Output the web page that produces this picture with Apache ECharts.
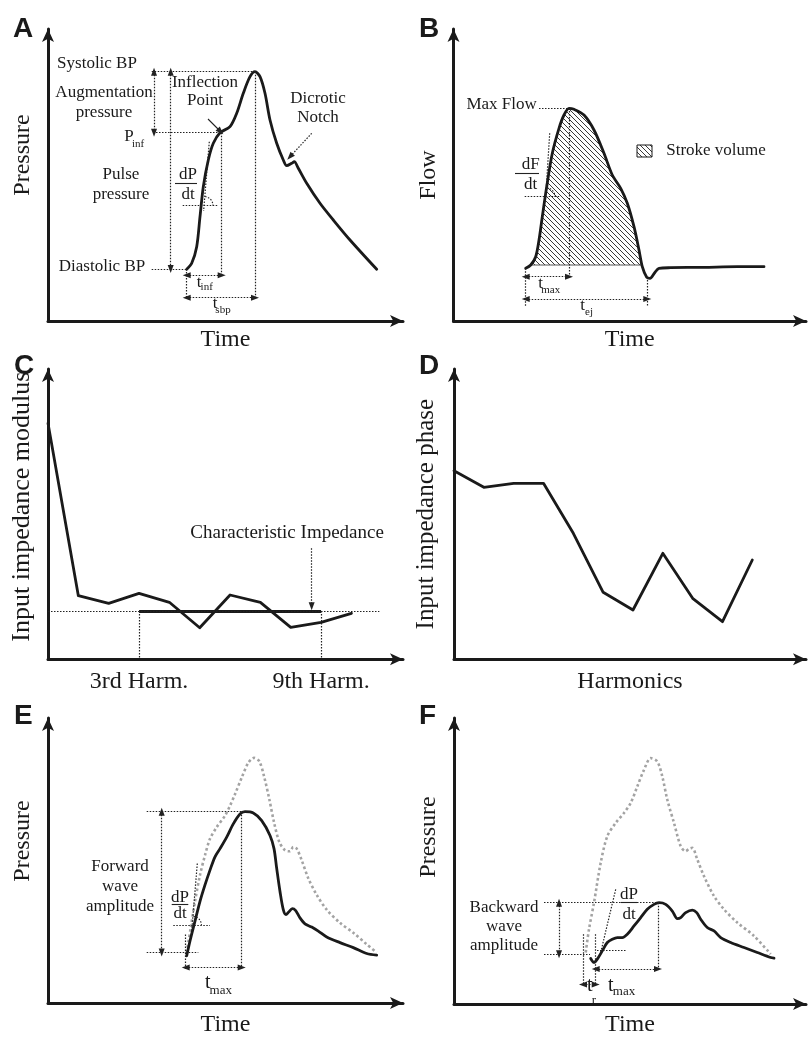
<!DOCTYPE html>
<html><head><meta charset="utf-8">
<script src="https://cdn.jsdelivr.net/npm/echarts@6/dist/echarts.min.js"></script>
<style>html,body{margin:0;padding:0;background:#fff}#c{width:808px;height:1038px}</style>
</head><body><div id="c"></div>
<script>
// ---------- Panel A : central pressure waveform (time, pressure; arbitrary units)
const aPressure = [[138.7,51.7],[143.7,57.7],[148.7,74.3],[152,104.3],[155.3,134.3],[160.3,161],[165.3,177.7],[172,188.3],[182,194.3],[188.7,207.7],[195.3,227.7],[202,244.3],[207,249.3],[212,244.3],[217,227.7],[222,201],[228.7,177.7],[235.3,161],[238.7,155.3],[243.7,157.7],[246.3,159.3],[250.3,152.7],[258.7,137.7],[272,117.7],[285.3,101],[302,81],[328.7,51.7]];
// ---------- Panel B : aortic flow waveform
const bFlow = [[72.2,52.7],[77.2,56],[82.2,64.3],[85.5,81],[88.8,104.3],[93.2,134.3],[98.8,167.7],[105.5,192.7],[110.5,206],[115.5,212.7],[120.5,211.7],[130.5,206],[140.5,191],[150.5,167.7],[158.8,146],[167.2,132.7],[173.8,117.7],[180.5,94.3],[185.5,71],[188.8,54.3],[193.2,43.7],[196.5,42.7],[201.2,48.3],[205.5,52.7],[217.2,53.3],[250.5,53.7],[283.8,54.3],[310.5,54.3]];
const bStroke = [[77.2,56],[82.2,64.3],[85.5,81],[88.8,104.3],[93.2,134.3],[98.8,167.7],[105.5,192.7],[110.5,206],[115.5,212.7],[120.5,211.7],[130.5,206],[140.5,191],[150.5,167.7],[158.8,146],[167.2,132.7],[173.8,117.7],[180.5,94.3],[185.5,71],[188.3,56]];
// ---------- Panels C, D : input impedance spectrum
const harmonics = [0,1,2,3,4,5,6,7,8,9,10];
const cModulus = [236,63.6,56,66,57,31.6,64.3,57,32,37,46];
const cCharImp = 48.3;
const harmonicLabels = {3:'3rd Harm.', 9:'9th Harm.'};
const dPhase = [188.6,172,176,176,126,67,49.3,106,61,37.6,99.3];
// ---------- Panel E : forward wave + measured pressure
const eForward = [[138.7,47.7],[142,62.7],[147,82.7],[152,102.7],[157,119.3],[162,134.3],[167,147.7],[172,156],[178.7,167.7],[185.3,181],[192,191],[197,193.3],[205.3,192],[213.7,184.3],[222,169.3],[226,156],[228.7,136],[232,112.7],[235.3,94.3],[238,89.3],[240.7,92],[244.3,95.3],[247.7,93.3],[252,86],[257,80],[263.7,76.7],[270.3,72.7],[278.7,66.7],[292,61],[305.3,56],[318.7,50],[328.7,48.3]];
const eMeasured = [[138.7,51],[142.7,76],[147,102.7],[152,129.3],[157,149.3],[162,166],[168.7,177.7],[177,189.3],[182,199.3],[187,211],[193.7,227.7],[200.3,242.7],[206,247.7],[211.3,244.3],[216,229.3],[221.3,206],[226,182.7],[231.3,162.7],[237,154.3],[242,153.3],[245.3,157.7],[248.7,156],[253.7,144.3],[260.3,126],[268.7,109.3],[278.7,94.3],[292,81],[305.3,71],[318.7,59.3],[328.7,51]];
// ---------- Panel F : backward wave + measured pressure
const fBackward = [[136.7,45.7],[140,41.7],[143.3,45],[148.3,53.3],[153.3,61.7],[158.3,65],[163.3,66.7],[168.3,66.7],[173.3,70],[180,78.3],[186.7,86.7],[193.3,95],[200,100],[205,101.7],[211.7,100],[218.3,93.3],[223.3,85.7],[226.7,86.7],[231.7,91.7],[238.3,94.3],[242.7,91.7],[246.7,85],[253.3,76.7],[260,73.3],[266.7,66.7],[276.7,61.7],[290,56.7],[303.3,51.7],[316.7,46.7],[320,46]];
const fMeasured = [[131.7,51.7],[135,75],[140,101.7],[146.7,141.7],[153.3,168.3],[161.7,181.7],[170,191.7],[176.7,201.7],[183.3,218.3],[190,235],[196.7,246.7],[203.3,243.3],[208.3,228.3],[213.3,205],[220,181.7],[226.7,158.3],[231.7,153.3],[235,155.7],[238.3,156.7],[243.3,145],[250,128.3],[260,108.3],[270,95],[283.3,81.7],[300,68.3],[316.7,50]];

// ---------- annotations (data coordinates)
const aDotted = [[[103.7,249.3],[207,249.3]],[[105,188.3],[173.7,188.3]],[[103.7,52],[138.7,52]],[[173.7,188.3],[173.7,44.3]],[[207,249.3],[207,22.7]],[[138.7,52],[138.7,22.7]],[[161.3,179.3],[155.6,110]],[[134.7,115.5],[170.3,115.5]]];
const aDouble = [[[106,249.3],[106,188.3]],[[122.7,249.3],[122.7,52]],[[138.7,45.7],[173.7,45.7]],[[138.7,23.3],[207,23.3]]];
const aPointer = [[[160,202],[172.5,189.5]]];
const aDotPointer = [[[263.7,187.7],[242,164.3]]];
const aBars = [[[127,138],[149,138]]];
const aAngles = [[156,115.5]];
const aNotes = [['Systolic BP',49,257],['Augmentation',56,228],['pressure',56,208],['Inflection',157,238],['Point',157,220],['Dicrotic',270,222],['Notch',270,203],['Pulse',73,146],['pressure',73,126],['dP',140,146],['dt',140,126],['Diastolic BP',54,54],['P',81,184],['t',151,38],['t',167,17]];
const aSubs = [['inf',90,177],['inf',158.7,34],['sbp',175,11]];

const bDotted = [[[85.5,213],[115.5,213]],[[115.5,213],[115.5,42]],[[72.2,52.7],[72.2,14.3]],[[193.8,41],[193.8,14.3]],[[96.2,187.7],[92.2,124.3]],[[71.2,124.3],[107.2,124.3]]];
const bDouble = [[[72.2,44.3],[115.5,44.3]],[[72.2,22],[193.8,22]]];
const bBars = [[[61.5,147.7],[85.5,147.7]]];
const bAngles = [[92.4,124.3]];
const bNotes = [['dF',77.2,156.7],['dt',77.2,136],['t',87.2,37],['t',129.2,15]];
const bSubs = [['max',97.2,31],['ej',135.5,9]];
const bLegendBox = [[183.5,176],[198.5,164]];
const bLegendText = [['Stroke volume',212.2,170.3]];
const bMaxFlow = [['Max Flow',83.8,216]];

const cSolid = [[[3,cCharImp],[9,cCharImp]]];
const cDotted = [[[0,cCharImp],[10.92,cCharImp]],[[3,cCharImp],[3,0]],[[9,cCharImp],[9,0]]];
const cDotPointer = [[[8.69,111],[8.69,53]]];
const cNotes = [['Characteristic Impedance',7.88,126.6]];

const eDotted = [[[98.7,193.3],[197,193.3]],[[98.7,51],[150.3,51]],[[193.7,193.3],[193.7,34.3]],[[137.7,69.3],[137.7,34.3]],[[149.3,141],[143.3,68]],[[125.3,78.7],[162,78.7]]];
const eDouble = [[[113.7,193.3],[113.7,51]],[[137.7,36],[193.7,36]]];
const eBars = [[[123.7,99.3],[140.3,99.3]]];
const eAngles = [[144.4,78.7]];
const eNotes = [['Forward',72,137.7],['wave',72,117.7],['amplitude',72,97.7],['dP',132,107],['dt',132,90]];
const eT = [['t',159.7,20]];
const eSubs = [['max',172.8,13]];

const fDotted = [[[90,101.7],[205,101.7]],[[90,50],[136,50]],[[143,54],[171.7,54]],[[204,101.7],[204,35]],[[129,70],[129,18.3]],[[141.7,70],[141.7,18.3]],[[161.7,115],[146.7,51.7]]];
const fDouble = [[[105,101.7],[105,50]],[[141.7,35],[204,35]],[[129,19.5],[141.7,19.5]]];
const fBars = [[[166.7,102.3],[183.3,102.3]]];
const fNotes = [['Backward',50,96.7],['wave',50,77.7],['amplitude',50,58.3],['dP',175,110],['dt',175,90]];
const fT = [['t',135.7,18.3],['t',156.7,18.3]];
const fSubs = [['r',140,3.3],['max',170,12.3]];

// ---------- styling helpers
const FONT = 'Liberation Serif';
const INK = '#1a1a1a';
const DOT = {color:'#222', width:1.2, type:[1.5,1.5]};
const SOLID_THIN = {color:'#222', width:1.1, type:'solid'};
const SOLID_THICK = {color:INK, width:2.8, type:'solid'};
const AH = [6,8];

function segs(list, style, s0, s1) {
  return list.map(([p, q]) => [
    {coord:p, symbol:s0, symbolSize:AH, lineStyle:style},
    {coord:q, symbol:s1, symbolSize:AH, lineStyle:style}
  ]);
}
function texts(list, size, pos) {
  return list.map(t => ({
    coord:[t[1], t[2]], symbol:'circle', symbolSize:1,
    itemStyle:{color:'rgba(0,0,0,0)'},
    label:{show:true, position:pos || 'inside', distance:0, formatter:t[0],
      fontSize:size, fontFamily:FONT, color:INK}
  }));
}
function markers(lines, notes) {
  return {
    markLine:{silent:true, animation:false, symbol:['none','none'], label:{show:false},
      emphasis:{disabled:true}, lineStyle:DOT, data:lines},
    markPoint:{silent:true, animation:false, emphasis:{disabled:true}, data:notes}
  };
}
function makeHatch() {
  const s = 5, c = document.createElement('canvas');
  c.width = s; c.height = s;
  const g = c.getContext('2d');
  g.strokeStyle = '#222'; g.lineWidth = 0.9;
  g.beginPath();
  g.moveTo(-1,-1); g.lineTo(s+1,s+1);
  g.moveTo(-1,s-1); g.lineTo(1,s+1);
  g.moveTo(s-1,-1); g.lineTo(s+1,1);
  g.stroke();
  return {image:c, repeat:'repeat'};
}
const hatch = makeHatch();

// small dotted angle arcs at the foot of each tangent line
function angleSeries(i, centers, ang) {
  return {
    type:'custom', xAxisIndex:i, yAxisIndex:i, data:[0], silent:true, clip:false, z:4,
    renderItem:(params, api) => ({type:'group', children: centers.map(c => {
      const p = api.coord(c);
      return {type:'arc', shape:{cx:p[0], cy:p[1], r:9, startAngle:ang, endAngle:0, clockwise:true},
        style:{fill:null, stroke:'#222', lineWidth:1.1, lineDash:[1.5,1.5]}};
    })})
  };
}

const grids = [
  {left:48, top:29, width:355, height:292},
  {left:453.5, top:29, width:352.5, height:292},
  {left:48, top:369, width:355, height:290.3},
  {left:454, top:369, width:352, height:290.3},
  {left:48, top:718, width:355, height:288},
  {left:454, top:718, width:352, height:287}
];
const xMax = [355, 352.5, 11.7, 11.8, 355, 352];
const yMax = [292, 292, 290.3, 290.3, 288, 287];
const xNames = ['Time','Time','','Harmonics','Time','Time'];
const xGaps = [7,7,0,10,10,9];
const yNames = ['Pressure','Flow','Input impedance modulus','Input impedance phase','Pressure','Pressure'];
const yFont = [24,24,26,25,24,24];
const yShift = [40,0,15,0,39,48];
const yGaps = [13,13,13,15,13,13];
const letters = ['A','B','C','D','E','F'];
const letterPos = [[13,15],[419,15],[14,352],[419,352],[14,702],[419,702]];

const axisLine = {show:true, onZero:true, symbol:['none','arrow'], symbolSize:[9,13],
  lineStyle:{color:INK, width:3}};

const xAxis = grids.map((g,i) => ({
  gridIndex:i, type:'value', min:0, max:xMax[i], interval: i===2 ? 3 : undefined,
  axisLine:axisLine, axisTick:{show:false}, splitLine:{show:false},
  axisLabel: i===2 ? {show:true, margin:10, fontSize:24, fontFamily:FONT, color:INK,
      showMinLabel:false, showMaxLabel:false,
      formatter: v => harmonicLabels[v] || ''} : {show:false},
  name:xNames[i], nameLocation:'middle', nameGap:xGaps[i],
  nameTextStyle:{fontSize:24, fontFamily:FONT, color:INK, verticalAlign:'top'}
}));
const yAxis = grids.map((g,i) => ({
  gridIndex:i, type:'value', min:0, max:yMax[i],
  axisLine:axisLine, axisTick:{show:false}, splitLine:{show:false}, axisLabel:{show:false},
  name:yNames[i], nameLocation:'middle', nameGap:yGaps[i], nameRotate:90,
  nameTextStyle:{fontSize:yFont[i], fontFamily:FONT, color:INK, padding:[0,0,0,yShift[i]]}
}));

function lineSeries(i, data, extra) {
  return Object.assign({
    type:'line', xAxisIndex:i, yAxisIndex:i, data:data, showSymbol:false, symbol:'none',
    smooth:0.3, clip:false, silent:true, z:3,
    lineStyle:{color:INK, width:2.8, join:'round', cap:'round'}
  }, extra || {});
}

const series = [
  lineSeries(0, aPressure, markers(
    [].concat(segs(aDotted, DOT,'none','none'), segs(aDouble, DOT,'triangle','triangle'),
      segs(aPointer, SOLID_THIN,'none','triangle'), segs(aDotPointer, DOT,'none','triangle'),
      segs(aBars, SOLID_THIN,'none','none')),
    [].concat(texts(aNotes,17), texts(aSubs,11)))),
  angleSeries(0, aAngles, -1.45),
  {
    type:'custom', xAxisIndex:1, yAxisIndex:1, data:[0], silent:true, clip:false, z:1,
    renderItem:(params, api) => {
      const p0 = api.coord(bLegendBox[0]), p1 = api.coord(bLegendBox[1]);
      return {type:'group', children:[
        {type:'polygon', shape:{points:bStroke.map(p => api.coord(p))},
          style:{fill:hatch, stroke:'#555', lineWidth:1}},
        {type:'rect', shape:{x:p0[0], y:p0[1], width:p1[0]-p0[0], height:p1[1]-p0[1]},
          style:{fill:hatch, stroke:INK, lineWidth:1}}
      ]};
    }
  },
  lineSeries(1, bFlow, markers(
    [].concat(segs(bDotted, DOT,'none','none'), segs(bDouble, DOT,'triangle','triangle'),
      segs(bBars, SOLID_THIN,'none','none')),
    [].concat(texts(bNotes,17), texts(bSubs,11), texts(bLegendText,17,'right'), texts(bMaxFlow,17,'left')))),
  angleSeries(1, bAngles, -1.45),
  lineSeries(2, harmonics.map((h,k) => [h, cModulus[k]]), Object.assign({smooth:false}, markers(
    [].concat(segs(cSolid, SOLID_THICK,'none','none'), segs(cDotted, DOT,'none','none'),
      segs(cDotPointer, DOT,'none','triangle')),
    texts(cNotes,19)))),
  lineSeries(3, harmonics.map((h,k) => [h, dPhase[k]]), {smooth:false}),
  lineSeries(4, eMeasured, {lineStyle:{color:'#a3a3a3', width:2.6, type:[2.6,2.6]}, z:2}),
  lineSeries(4, eForward, markers(
    [].concat(segs(eDotted, DOT,'none','none'), segs(eDouble, DOT,'triangle','triangle'),
      segs(eBars, SOLID_THIN,'none','none')),
    [].concat(texts(eNotes,17), texts(eT,20), texts(eSubs,13)))),
  angleSeries(4, eAngles, -1.45),
  lineSeries(5, fMeasured, {lineStyle:{color:'#a3a3a3', width:2.6, type:[2.6,2.6]}, z:2}),
  lineSeries(5, fBackward, markers(
    [].concat(segs(fDotted, DOT,'none','none'), segs(fDouble, DOT,'triangle','triangle'),
      segs(fBars, SOLID_THIN,'none','none')),
    [].concat(texts(fNotes,17), texts(fT,20), texts(fSubs,13))))
];

const chart = echarts.init(document.getElementById('c'), null, {renderer:'canvas', width:808, height:1038});
chart.setOption({
  backgroundColor:'#ffffff',
  animation:false,
  textStyle:{fontFamily:FONT},
  title: letters.map((l,i) => ({text:l, left:letterPos[i][0], top:letterPos[i][1], padding:0,
    textStyle:{fontFamily:'Liberation Sans', fontWeight:'bold', fontSize:28, color:INK}})),
  grid:grids,
  xAxis:xAxis,
  yAxis:yAxis,
  series:series
});
</script></body></html>
